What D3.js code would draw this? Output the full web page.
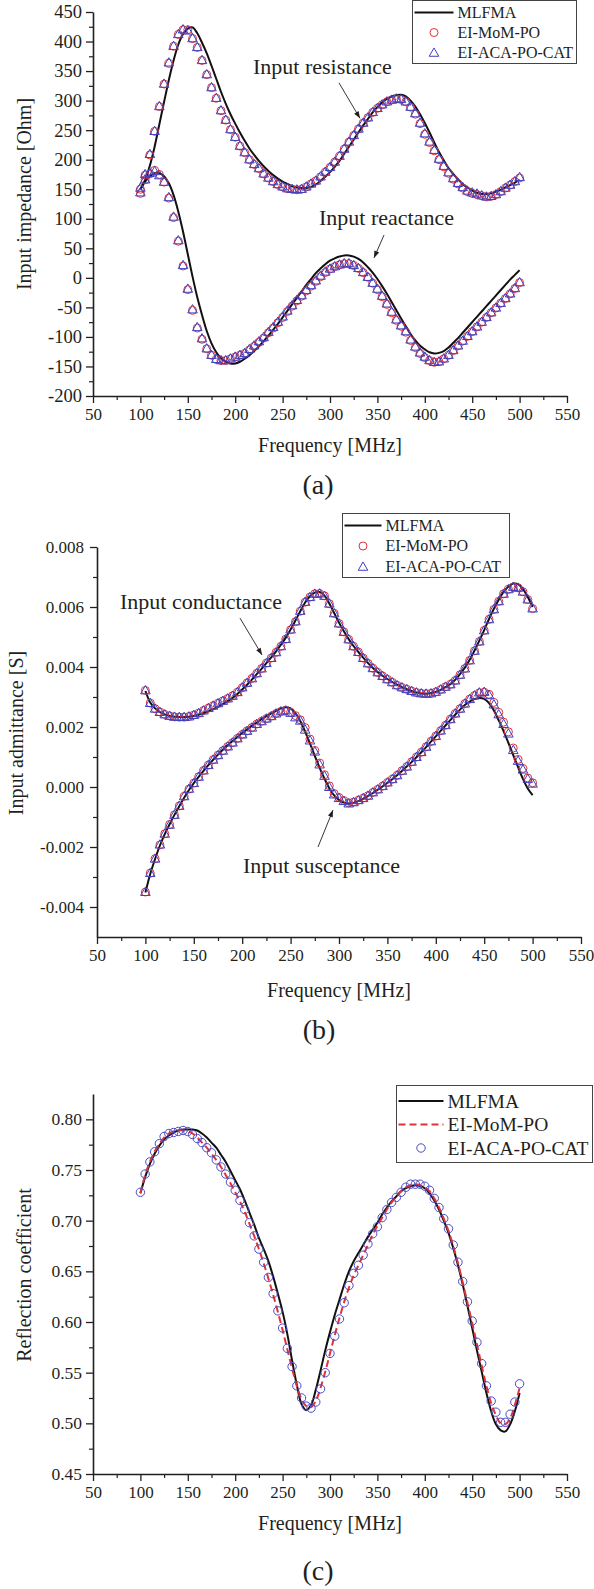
<!DOCTYPE html>
<html><head><meta charset="utf-8">
<script src="https://cdn.jsdelivr.net/npm/d3@7"></script>
<style>
body{margin:0;background:#fff}
svg{display:block}
text{font-family:"Liberation Serif","Times New Roman",serif;fill:#231f20}
</style>
</head><body>
<svg id="chart" width="594" height="1589"></svg>
<script>
// ---------- shared frequency grid (MHz) ----------
const freq = [100,105,110,115,120,125,130,135,140,145,
  150,155,160,165,170,175,180,185,190,195,
  200,205,210,215,220,225,230,235,240,245,
  250,255,260,265,270,275,280,285,290,295,
  300,305,310,315,320,325,330,335,340,345,
  350,355,360,365,370,375,380,385,390,395,
  400,405,410,415,420,425,430,435,440,445,
  450,455,460,465,470,475,480,485,490,495,500];

const xTicks = [50,100,150,200,250,300,350,400,450,500,550];
const xTickLabels = ["50","100","150","200","250","300","350","400","450","500","550"];
const xMinor = [75,125,175,225,275,325,375,425,475,525];
const seriesNames = ["MLFMA","EI-MoM-PO","EI-ACA-PO-CAT"];

// ---------- (a) input impedance [Ohm] ----------
const resMLFMA = [150,166,190,222,260,298,335,368,395,413,
  422,424,414,398,380,359,337,315,295,277,
  261,246,232,219,208,198,189,181,174,168,
  163,159,155,153,152,152,154,158,164,171,
  179,188,198,210,222,234,246,258,269,280,
  289,297,303,307,309,310,307,300,290,277,
  262,246,229,213,199,186,176,167,159,153,
  148,144,142,142,143,146,149,153,157,161,166];
const resMoM = [143,174,208,248,290,328,363,392,412,420,
  420,405,390,368,344,322,304,283,267,251,
  238,223,212,200,192,185,176,169,163,158,
  154,151,150,149,150,154,159,164,171,179,
  187,196,206,218,230,241,252,262,271,280,
  287,293,298,301,303,302,298,289,277,261,
  243,229,215,200,188,177,167,159,152,146,
  143,141,139,137,138,141,146,152,157,163,169];
const resACA = [145,176,210,249,291,329,365,393,413,421,
  419,406,391,369,345,323,305,284,268,252,
  239,224,213,201,193,186,177,170,164,159,
  155,152,151,150,151,155,160,165,172,180,
  188,197,207,219,231,242,253,263,272,281,
  288,294,299,302,304,303,299,290,279,263,
  245,231,217,202,190,179,169,161,154,148,
  145,143,140,138,139,142,147,153,158,164,171];
const reaMLFMA = [150,163,172,177,177,172,160,140,112,78,
  40,2,-33,-63,-90,-111,-126,-136,-142,-145,
  -145,-142,-137,-131,-124,-116,-107,-98,-88,-78,
  -67,-56,-45,-34,-23,-12,-2,8,16,23,
  29,33,36,38,38,36,32,26,18,9,
  -2,-14,-27,-41,-55,-69,-82,-95,-106,-115,
  -121,-126,-128,-127,-124,-118,-110,-102,-93,-84,
  -75,-66,-57,-48,-39,-30,-21,-12,-3,5,13];
const reaMoM = [150,166,176,182,175,162,135,102,62,20,
  -20,-55,-85,-104,-120,-131,-138,-140,-140,-137,
  -134,-131,-128,-122,-116,-109,-102,-93,-85,-76,
  -67,-57,-48,-39,-31,-22,-14,-6,2,9,
  15,19,22,24,24,21,16,9,1,-9,
  -20,-32,-45,-59,-72,-82,-92,-106,-118,-128,
  -135,-140,-143,-142,-137,-131,-123,-115,-107,-99,
  -91,-83,-75,-67,-59,-51,-43,-35,-27,-18,-8];
const reaACA = [153,167,178,181,174,163,137,104,64,22,
  -18,-53,-83,-102,-119,-130,-137,-139,-139,-136,
  -133,-130,-127,-120,-114,-107,-100,-91,-83,-74,
  -65,-55,-46,-37,-29,-20,-12,-4,4,11,
  16,20,23,25,25,22,17,10,2,-8,
  -18,-30,-43,-57,-70,-80,-90,-104,-116,-126,
  -133,-139,-142,-141,-136,-130,-122,-114,-106,-98,
  -90,-82,-74,-66,-58,-50,-42,-34,-26,-17,-7];
const yTicksA = [-200,-150,-100,-50,0,50,100,150,200,250,300,350,400,450];
const yTickLabelsA = ["-200","-150","-100","-50","0","50","100","150","200","250","300","350","400","450"];
const yMinorA = [-175,-125,-75,-25,25,75,125,175,225,275,325,375,425];

// ---------- (b) input admittance [S] ----------
const condMLFMA = [0.00320,0.00282,0.00262,0.00250,0.00242,0.00237,0.00234,0.00233,0.00233,0.00234,
  0.00237,0.00241,0.00246,0.00252,0.00259,0.00267,0.00276,0.00286,0.00297,0.00310,
  0.00325,0.00341,0.00358,0.00376,0.00394,0.00413,0.00432,0.00452,0.00474,0.00498,
  0.00525,0.00555,0.00586,0.00615,0.00636,0.00648,0.00650,0.00638,0.00612,0.00580,
  0.00548,0.00519,0.00493,0.00470,0.00450,0.00431,0.00413,0.00397,0.00383,0.00371,
  0.00360,0.00350,0.00341,0.00333,0.00326,0.00320,0.00315,0.00312,0.00311,0.00313,
  0.00317,0.00324,0.00333,0.00343,0.00357,0.00376,0.00398,0.00424,0.00455,0.00488,
  0.00523,0.00560,0.00594,0.00624,0.00650,0.00668,0.00678,0.00676,0.00660,0.00633,0.00600];
const condMoM = [0.00322,0.00280,0.00261,0.00250,0.00242,0.00237,0.00234,0.00233,0.00233,0.00235,
  0.00240,0.00246,0.00255,0.00263,0.00271,0.00279,0.00287,0.00295,0.00304,0.00316,
  0.00331,0.00347,0.00362,0.00379,0.00395,0.00413,0.00430,0.00449,0.00469,0.00493,
  0.00524,0.00551,0.00586,0.00616,0.00633,0.00644,0.00645,0.00637,0.00611,0.00579,
  0.00545,0.00517,0.00492,0.00469,0.00450,0.00430,0.00412,0.00396,0.00382,0.00370,
  0.00359,0.00349,0.00339,0.00332,0.00326,0.00320,0.00315,0.00312,0.00311,0.00312,
  0.00317,0.00325,0.00334,0.00342,0.00355,0.00374,0.00395,0.00422,0.00454,0.00485,
  0.00522,0.00559,0.00592,0.00619,0.00644,0.00659,0.00667,0.00664,0.00651,0.00625,0.00595];
const condACA = [0.00323,0.00281,0.00262,0.00251,0.00243,0.00238,0.00235,0.00234,0.00234,0.00236,
  0.00241,0.00247,0.00256,0.00264,0.00272,0.00280,0.00288,0.00296,0.00305,0.00317,
  0.00333,0.00348,0.00363,0.00380,0.00396,0.00414,0.00431,0.00450,0.00470,0.00494,
  0.00526,0.00553,0.00588,0.00618,0.00634,0.00645,0.00646,0.00638,0.00612,0.00580,
  0.00546,0.00518,0.00493,0.00470,0.00451,0.00431,0.00413,0.00397,0.00383,0.00371,
  0.00360,0.00350,0.00340,0.00333,0.00327,0.00321,0.00316,0.00313,0.00312,0.00313,
  0.00318,0.00326,0.00335,0.00343,0.00356,0.00375,0.00396,0.00423,0.00455,0.00486,
  0.00523,0.00560,0.00593,0.00620,0.00645,0.00660,0.00668,0.00665,0.00652,0.00626,0.00596];
const suscMLFMA = [-0.00352,-0.00290,-0.00240,-0.00195,-0.00157,-0.00124,-0.00093,-0.00064,-0.00036,-0.00010,
  0.00013,0.00034,0.00054,0.00073,0.00091,0.00108,0.00124,0.00139,0.00153,0.00167,
  0.00180,0.00192,0.00204,0.00215,0.00226,0.00236,0.00245,0.00254,0.00262,0.00266,
  0.00262,0.00246,0.00220,0.00185,0.00145,0.00104,0.00064,0.00028,-0.00004,-0.00028,
  -0.00043,-0.00052,-0.00055,-0.00053,-0.00047,-0.00039,-0.00030,-0.00020,-0.00009,0.00002,
  0.00014,0.00026,0.00039,0.00053,0.00068,0.00083,0.00099,0.00116,0.00133,0.00151,
  0.00169,0.00187,0.00205,0.00223,0.00241,0.00258,0.00273,0.00285,0.00293,0.00297,
  0.00294,0.00280,0.00255,0.00222,0.00186,0.00147,0.00106,0.00066,0.00027,-0.00005,-0.00027];
const suscMoM = [-0.00350,-0.00287,-0.00239,-0.00193,-0.00156,-0.00125,-0.00093,-0.00063,-0.00031,-0.00007,
  0.00013,0.00034,0.00055,0.00073,0.00091,0.00106,0.00121,0.00135,0.00148,0.00162,
  0.00175,0.00187,0.00198,0.00210,0.00219,0.00228,0.00236,0.00245,0.00252,0.00255,
  0.00249,0.00238,0.00224,0.00198,0.00160,0.00122,0.00080,0.00041,0.00004,-0.00022,
  -0.00035,-0.00045,-0.00053,-0.00050,-0.00044,-0.00037,-0.00029,-0.00018,-0.00008,0.00003,
  0.00015,0.00026,0.00039,0.00054,0.00068,0.00084,0.00100,0.00116,0.00134,0.00152,
  0.00170,0.00188,0.00206,0.00226,0.00245,0.00261,0.00278,0.00293,0.00305,0.00314,
  0.00316,0.00309,0.00282,0.00249,0.00216,0.00184,0.00130,0.00092,0.00062,0.00030,0.00014];
const suscACA = [-0.00349,-0.00286,-0.00238,-0.00191,-0.00155,-0.00125,-0.00092,-0.00062,-0.00030,-0.00005,
  0.00014,0.00035,0.00056,0.00074,0.00092,0.00107,0.00122,0.00136,0.00149,0.00163,
  0.00176,0.00188,0.00199,0.00211,0.00220,0.00229,0.00237,0.00246,0.00253,0.00256,
  0.00248,0.00233,0.00222,0.00192,0.00156,0.00119,0.00076,0.00038,0.00001,-0.00024,
  -0.00036,-0.00046,-0.00054,-0.00050,-0.00043,-0.00036,-0.00028,-0.00017,-0.00007,0.00004,
  0.00016,0.00027,0.00040,0.00055,0.00069,0.00085,0.00101,0.00117,0.00135,0.00153,
  0.00171,0.00189,0.00207,0.00227,0.00246,0.00262,0.00279,0.00294,0.00306,0.00316,
  0.00318,0.00307,0.00276,0.00243,0.00211,0.00179,0.00124,0.00088,0.00059,0.00028,0.00012];
const yTicksB = [-0.004,-0.002,0,0.002,0.004,0.006,0.008];
const yTickLabelsB = ["-0.004","-0.002","0.000","0.002","0.004","0.006","0.008"];
const yMinorB = [-0.003,-0.001,0.001,0.003,0.005,0.007];

// ---------- (c) reflection coefficient ----------
const reflMLFMA = [0.727,0.743,0.756,0.766,0.774,0.780,0.784,0.787,0.789,0.790,
  0.790,0.790,0.789,0.786,0.782,0.777,0.772,0.765,0.758,0.749,
  0.740,0.731,0.720,0.708,0.696,0.683,0.672,0.660,0.645,0.628,
  0.610,0.588,0.562,0.538,0.519,0.513,0.518,0.533,0.552,0.572,
  0.590,0.607,0.622,0.637,0.650,0.660,0.668,0.676,0.684,0.691,
  0.698,0.706,0.713,0.719,0.724,0.729,0.732,0.734,0.735,0.734,
  0.732,0.727,0.720,0.711,0.700,0.688,0.673,0.656,0.637,0.616,
  0.594,0.572,0.551,0.530,0.512,0.499,0.493,0.492,0.499,0.512,0.530];
const reflMoM = [0.727,0.745,0.758,0.768,0.776,0.782,0.786,0.788,0.789,0.789,
  0.788,0.786,0.782,0.777,0.772,0.766,0.760,0.753,0.745,0.737,
  0.728,0.719,0.709,0.697,0.685,0.672,0.658,0.643,0.627,0.610,
  0.592,0.573,0.554,0.537,0.524,0.517,0.516,0.522,0.535,0.551,
  0.569,0.587,0.604,0.620,0.634,0.646,0.656,0.666,0.676,0.686,
  0.695,0.703,0.711,0.718,0.724,0.729,0.733,0.735,0.736,0.735,
  0.733,0.729,0.722,0.713,0.702,0.690,0.675,0.658,0.639,0.619,
  0.599,0.578,0.557,0.537,0.520,0.508,0.500,0.499,0.505,0.518,0.535];
const reflACA = [0.728,0.746,0.758,0.768,0.776,0.783,0.786,0.787,0.788,0.789,
  0.788,0.785,0.781,0.777,0.772,0.767,0.760,0.753,0.746,0.738,
  0.730,0.720,0.711,0.698,0.685,0.672,0.659,0.644,0.628,0.611,
  0.594,0.574,0.556,0.537,0.525,0.517,0.515,0.521,0.534,0.550,
  0.569,0.586,0.603,0.619,0.636,0.648,0.656,0.666,0.677,0.687,
  0.694,0.703,0.711,0.718,0.723,0.728,0.733,0.736,0.736,0.736,
  0.734,0.730,0.722,0.713,0.702,0.692,0.676,0.659,0.640,0.620,
  0.601,0.580,0.559,0.537,0.522,0.511,0.501,0.501,0.509,0.521,0.539];
const yTicksC = [0.45,0.50,0.55,0.60,0.65,0.70,0.75,0.80];
const yTickLabelsC = ["0.45","0.50","0.55","0.60","0.65","0.70","0.75","0.80"];
const yMinorC = [0.475,0.525,0.575,0.625,0.675,0.725,0.775];

// ---------- drawing ----------
const svg = d3.select("#chart");
const INK = "#231f20", RED = "#e0323a", BLUE = "#3f3fbf";

function drawPanel(p) {
  const x = d3.scaleLinear([50, 550], [p.left, p.right]);
  const y = d3.scaleLinear(p.yDomain, [p.bottom, p.top]);
  const g = svg.append("g");

  // minor ticks
  g.append("g").attr("transform", `translate(0,${p.bottom})`)
    .call(d3.axisBottom(x).tickValues(xMinor).tickSize(4).tickFormat(""))
    .call(a => a.select(".domain").remove())
    .call(a => a.selectAll("line").attr("stroke", INK).attr("stroke-width", 1.2));
  g.append("g").attr("transform", `translate(${p.left},0)`)
    .call(d3.axisLeft(y).tickValues(p.yMinor).tickSize(4).tickFormat(""))
    .call(a => a.select(".domain").remove())
    .call(a => a.selectAll("line").attr("stroke", INK).attr("stroke-width", 1.2));

  // major axes
  g.append("g").attr("transform", `translate(0,${p.bottom})`)
    .call(d3.axisBottom(x).tickValues(xTicks).tickFormat((d, i) => xTickLabels[i])
      .tickSize(7).tickSizeOuter(0).tickPadding(5))
    .call(a => a.select(".domain").attr("stroke", INK).attr("stroke-width", 1.6))
    .call(a => a.selectAll("line").attr("stroke", INK).attr("stroke-width", 1.3))
    .call(a => a.selectAll("text").attr("font-family", "Liberation Serif").attr("font-size", p.xTickFont).attr("fill", INK));
  g.append("g").attr("transform", `translate(${p.left},0)`)
    .call(d3.axisLeft(y).tickValues(p.yTicks).tickFormat((d, i) => p.yTickLabels[i])
      .tickSize(7).tickSizeOuter(0).tickPadding(p.yPad))
    .call(a => a.select(".domain").attr("stroke", INK).attr("stroke-width", 1.6))
    .call(a => a.selectAll("line").attr("stroke", INK).attr("stroke-width", 1.3))
    .call(a => a.selectAll("text").attr("font-family", "Liberation Serif").attr("font-size", p.yTickFont).attr("fill", INK));

  // axis titles
  g.append("text").attr("x", (p.left + p.right) / 2).attr("y", p.xTitleY)
    .attr("text-anchor", "middle").attr("font-size", 20).text("Frequency [MHz]");
  g.append("text").attr("transform", `translate(${p.yTitleX},${p.yTitleY}) rotate(-90)`)
    .attr("text-anchor", "middle").attr("font-size", 20).text(p.yTitle);
  g.append("text").attr("x", p.labelX).attr("y", p.labelY)
    .attr("text-anchor", "middle").attr("font-size", 28).text(p.label);

  // series
  const line = d3.line().x((d, i) => x(freq[i])).y(d => y(d)).curve(d3.curveCatmullRom);
  p.series.forEach(s => {
    if (s.kind === "line") {
      g.append("path").datum(s.values).attr("d", line).attr("fill", "none")
        .attr("stroke", s.color).attr("stroke-width", s.width)
        .attr("stroke-dasharray", s.dash || null);
    } else if (s.kind === "circle") {
      g.append("g").selectAll("circle").data(s.values).join("circle")
        .attr("cx", (d, i) => x(freq[i])).attr("cy", d => y(d)).attr("r", s.r)
        .attr("fill", "none").attr("stroke", s.color).attr("stroke-width", 1);
    } else if (s.kind === "triangle") {
      const sym = d3.symbol(d3.symbolTriangle, s.size);
      g.append("g").selectAll("path").data(s.values).join("path")
        .attr("d", sym).attr("transform", (d, i) => `translate(${x(freq[i])},${y(d) + 1})`)
        .attr("fill", "none").attr("stroke", s.color).attr("stroke-width", 1);
    }
  });

  // annotations
  (p.notes || []).forEach(n => {
    g.append("text").attr("x", x(n.tx)).attr("y", y(n.ty)).attr("font-size", 22).text(n.text);
    const x1 = x(n.ax1), y1 = y(n.ay1), x2 = x(n.ax2), y2 = y(n.ay2);
    g.append("line").attr("x1", x1).attr("y1", y1).attr("x2", x2).attr("y2", y2)
      .attr("stroke", INK).attr("stroke-width", 0.9);
    const ang = Math.atan2(y2 - y1, x2 - x1), L = 7, W = 2.6;
    const bx = x2 - L * Math.cos(ang), by = y2 - L * Math.sin(ang);
    g.append("path").attr("d",
      `M${x2},${y2}L${bx - W * Math.sin(ang)},${by + W * Math.cos(ang)}L${bx + W * Math.sin(ang)},${by - W * Math.cos(ang)}Z`)
      .attr("fill", INK);
  });

  // legend
  const L = p.legend;
  const lg = g.append("g");
  lg.append("rect").attr("x", L.x).attr("y", L.y).attr("width", L.w).attr("height", L.h)
    .attr("fill", "#fff").attr("stroke", "#444").attr("stroke-width", 1);
  L.items.forEach((it, k) => {
    const cy = L.y + L.first + k * L.step;
    if (it.kind === "line") {
      lg.append("line").attr("x1", L.x + 2).attr("x2", L.x + 2 + L.sw).attr("y1", cy).attr("y2", cy)
        .attr("stroke", it.color).attr("stroke-width", it.width).attr("stroke-dasharray", it.dash || null);
    } else if (it.kind === "circle") {
      lg.append("circle").attr("cx", L.x + 2 + L.sw / 2).attr("cy", cy).attr("r", it.r)
        .attr("fill", "none").attr("stroke", it.color);
    } else {
      lg.append("path").attr("d", d3.symbol(d3.symbolTriangle, it.size))
        .attr("transform", `translate(${L.x + 2 + L.sw / 2},${cy + 1})`)
        .attr("fill", "none").attr("stroke", it.color);
    }
    lg.append("text").attr("x", L.x + L.sw + 6).attr("y", cy).attr("dy", "0.34em")
      .attr("font-size", L.font).text(seriesNames[k]);
  });
}

// (a)
drawPanel({
  left: 93, right: 567, top: 12, bottom: 396, yDomain: [-200, 450],
  yTicks: yTicksA, yTickLabels: yTickLabelsA, yMinor: yMinorA,
  xTickFont: 17, yTickFont: 18.5, yPad: 4,
  xTitleY: 452, yTitle: "Input impedance [Ohm]", yTitleX: 31, yTitleY: 194,
  label: "(a)", labelX: 318, labelY: 494,
  series: [
    {kind: "line", values: resMLFMA, color: "#111", width: 2},
    {kind: "line", values: reaMLFMA, color: "#111", width: 2},
    {kind: "circle", values: resMoM, color: RED, r: 4},
    {kind: "circle", values: reaMoM, color: RED, r: 4},
    {kind: "triangle", values: resACA, color: BLUE, size: 40},
    {kind: "triangle", values: reaACA, color: BLUE, size: 40}
  ],
  notes: [
    {text: "Input resistance", tx: 218.8, ty: 345, ax1: 309.5, ay1: 330, ax2: 331.6, ay2: 270},
    {text: "Input reactance", tx: 288.4, ty: 89.5, ax1: 357, ay1: 72.6, ax2: 346.4, ay2: 33.7}
  ],
  legend: {x: 412.5, y: 0.5, w: 164, h: 63, first: 12, step: 20, sw: 39, font: 16,
    items: [{kind: "line", color: "#111", width: 2}, {kind: "circle", color: RED, r: 4},
            {kind: "triangle", color: BLUE, size: 40}]}
});

// (b)
drawPanel({
  left: 97, right: 581, top: 547, bottom: 937, yDomain: [-0.005, 0.008],
  yTicks: yTicksB, yTickLabels: yTickLabelsB, yMinor: yMinorB,
  xTickFont: 17, yTickFont: 17, yPad: 6,
  xTitleY: 997, yTitle: "Input admittance [S]", yTitleX: 23, yTitleY: 733,
  label: "(b)", labelX: 319, labelY: 1039,
  series: [
    {kind: "line", values: condMLFMA, color: "#111", width: 2},
    {kind: "line", values: suscMLFMA, color: "#111", width: 2},
    {kind: "circle", values: condMoM, color: RED, r: 4},
    {kind: "circle", values: suscMoM, color: RED, r: 4},
    {kind: "triangle", values: condACA, color: BLUE, size: 40},
    {kind: "triangle", values: suscACA, color: BLUE, size: 40}
  ],
  notes: [
    {text: "Input conductance", tx: 73.8, ty: 0.00593, ax1: 197.7, ay1: 0.00563, ax2: 220.5, ay2: 0.0044},
    {text: "Input susceptance", tx: 200.8, ty: -0.00287, ax1: 278.3, ay1: -0.0020, ax2: 293.8, ay2: -0.00077}
  ],
  legend: {x: 342.5, y: 513.5, w: 167, h: 64, first: 12, step: 20.5, sw: 37, font: 16,
    items: [{kind: "line", color: "#111", width: 2}, {kind: "circle", color: RED, r: 4},
            {kind: "triangle", color: BLUE, size: 40}]}
});

// (c)
drawPanel({
  left: 93, right: 567, top: 1094, bottom: 1474, yDomain: [0.45, 0.825],
  yTicks: yTicksC, yTickLabels: yTickLabelsC, yMinor: yMinorC,
  xTickFont: 17, yTickFont: 17.5, yPad: 4,
  xTitleY: 1530, yTitle: "Reflection coefficient", yTitleX: 31, yTitleY: 1275,
  label: "(c)", labelX: 318, labelY: 1580,
  series: [
    {kind: "line", values: reflMLFMA, color: "#111", width: 2},
    {kind: "line", values: reflMoM, color: RED, width: 2, dash: "7,4"},
    {kind: "circle", values: reflACA, color: "#4b4bc4", r: 4.2}
  ],
  legend: {x: 396.5, y: 1085.5, w: 196, h: 77, first: 15.5, step: 23.5, sw: 45, font: 19.5,
    items: [{kind: "line", color: "#111", width: 2}, {kind: "line", color: RED, width: 2, dash: "7,4"},
            {kind: "circle", color: "#4b4bc4", r: 4.2}]}
});
</script>
</body></html>
